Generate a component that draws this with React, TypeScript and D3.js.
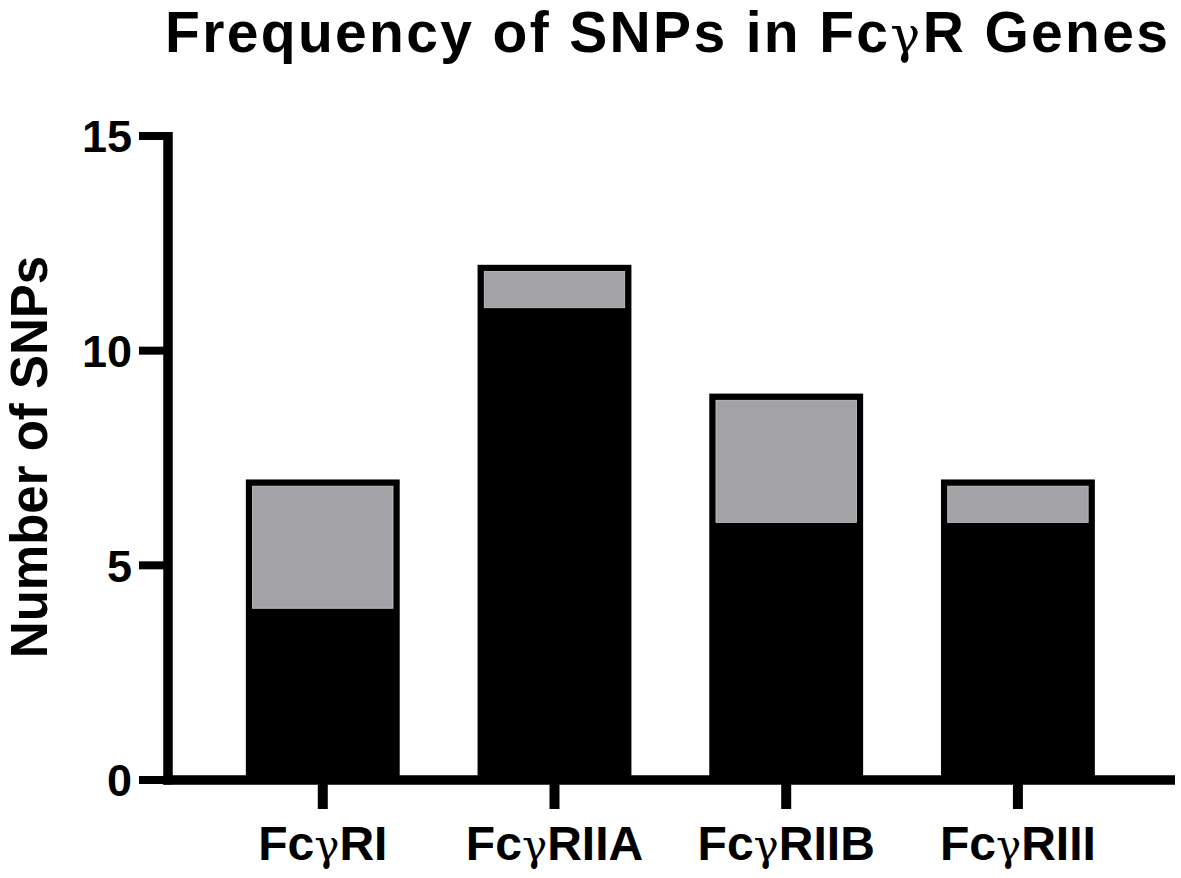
import * as d3 from 'd3';

// values
const categories = ['RI', 'RIIA', 'RIIB', 'RIII'];
const blackValues = [4, 11, 6, 6];
const grayValues = [3, 1, 3, 1];
const yTicks = [0, 5, 10, 15];

const WIDTH = 1181;
const HEIGHT = 878;
const FONT = '"Liberation Sans", Arial, Helvetica, sans-serif';
const GRAY = '#a3a2a6';

const App = () => {
  const x = d3.scaleBand<string>()
    .domain(categories)
    .range([168, 1172.7])
    .padding(0.336);

  const y = d3.scaleLinear()
    .domain([0, 15])
    .range([780, 136]);

  const bw = x.bandwidth();
  const inset = 6.7; // outline thickness of the bars

  const rows = categories.map((c, i) => ({
    cat: c,
    black: blackValues[i],
    total: blackValues[i] + grayValues[i],
  }));

  // Fcγ + suffix label helper
  const gammaLabel = (suffix: string) => (
    <>
      Fc
      <tspan fontFamily='"DejaVu Serif", "Liberation Serif", serif' fontWeight="normal" fontSize="0.88em">γ</tspan>
      {suffix}
    </>
  );

  return (
    <svg
      width={WIDTH}
      height={HEIGHT}
      style={{ position: 'absolute', left: 0, top: 0, background: '#fff' }}
    >
      {/* title */}
      <text
        x={666.5}
        y={52}
        textAnchor="middle"
        fontFamily={FONT}
        fontWeight="bold"
        fontSize={57}
        textLength={1003}
        lengthAdjust="spacing"
      >
        Frequency of SNPs in {gammaLabel('R Genes')}
      </text>

      {/* bars: black base, gray top with black outline */}
      {rows.map(d => {
        const x0 = x(d.cat)!;
        return (
          <g key={d.cat}>
            <rect
              x={x0}
              y={y(d.total)}
              width={bw}
              height={y(0) - y(d.total)}
              fill="#000"
            />
            <rect
              x={x0 + inset}
              y={y(d.total) + inset}
              width={bw - inset * 2}
              height={y(d.black) - y(d.total) - inset}
              fill={GRAY}
              stroke="#c9c8cb"
              strokeWidth={0.8}
            />
          </g>
        );
      })}

      {/* y axis */}
      <line x1={168} x2={168} y1={y(15) - 4} y2={y(0) + 4.5} stroke="#000" strokeWidth={9.5} />
      {yTicks.map(t => (
        <g key={t}>
          <line x1={139} x2={168} y1={y(t)} y2={y(t)} stroke="#000" strokeWidth={8} />
          <text
            x={132}
            y={y(t)}
            dy="0.36em"
            textAnchor="end"
            fontFamily={FONT}
            fontWeight="bold"
            fontSize={45}
          >
            {t}
          </text>
        </g>
      ))}

      {/* x axis */}
      <line x1={163.3} x2={1175} y1={y(0)} y2={y(0)} stroke="#000" strokeWidth={9.5} />
      {categories.map(c => {
        const cx = x(c)! + bw / 2;
        return (
          <g key={c}>
            <line x1={cx} x2={cx} y1={y(0)} y2={809} stroke="#000" strokeWidth={10} />
            <text
              x={cx}
              y={860}
              textAnchor="middle"
              fontFamily={FONT}
              fontWeight="bold"
              fontSize={48}
            >
              {gammaLabel(c)}
            </text>
          </g>
        );
      })}

      {/* y axis label */}
      <text
        transform={`translate(47,457) rotate(-90)`}
        textAnchor="middle"
        fontFamily={FONT}
        fontWeight="bold"
        fontSize={51}
      >
        Number of SNPs
      </text>
    </svg>
  );
};

export default App;
